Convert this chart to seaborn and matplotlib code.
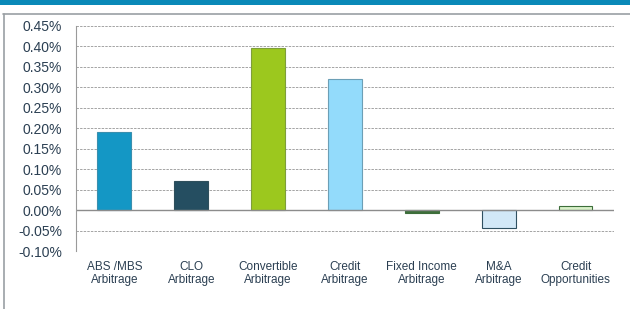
import matplotlib
matplotlib.use("Agg")
import matplotlib.pyplot as plt
from matplotlib.lines import Line2D
from matplotlib.patches import Rectangle
from matplotlib.ticker import FuncFormatter, MultipleLocator
import seaborn as sns
import pandas as pd

sns.set_theme(style="white")
plt.rcParams['font.family'] = ['Liberation Sans', 'DejaVu Sans']

categories = ["ABS /MBS\nArbitrage", "CLO\nArbitrage", "Convertible\nArbitrage",
              "Credit\nArbitrage", "Fixed Income\nArbitrage", "M&A\nArbitrage",
              "Credit\nOpportunities"]
returns = [0.190, 0.070, 0.395, 0.320, -0.008, -0.045, 0.010]
fill_colors = ["#1497c5", "#254e61", "#9cc81e", "#93dbfb", "#3d6e3a", "#d2e8f7", "#d8f1c8"]
edge_colors = ["#3a8fae", "#2f4f5c", "#7e9e3a", "#6c9fb6", "#3d6e3a", "#2f5061", "#3d6e3a"]

df = pd.DataFrame({"category": categories, "value": returns})

fig = plt.figure(figsize=(6.3, 3.09), dpi=100)
ax = fig.add_axes([0.1206, 0.1877, 0.8540, 0.7282])

sns.barplot(data=df, x="category", y="value", hue="category", palette=fill_colors,
            legend=False, width=0.44, ax=ax, saturation=1)
for patch, ec in zip(ax.patches, edge_colors):
    patch.set_edgecolor(ec)
    patch.set_linewidth(0.8)

ax.set_ylim(-0.10, 0.45)
ax.set_xlim(-0.5, len(categories) - 0.5)
ax.yaxis.set_major_locator(MultipleLocator(0.05))
ax.yaxis.set_major_formatter(FuncFormatter(lambda v, p: f"{v:.2f}%"))
ax.set_axisbelow(True)
ax.grid(axis="y", color="#a4a4a4", linestyle=(0, (2.5, 1.2)), linewidth=0.7)
ax.axhline(0, color="#8c8c8c", linewidth=1.0, zorder=1)

for side in ["top", "right", "bottom"]:
    ax.spines[side].set_visible(False)
ax.spines["left"].set_color("#9a9a9a")
ax.spines["left"].set_linewidth(0.8)

ax.tick_params(axis="y", labelsize=10, colors="#2b3f52", length=0, pad=10)
ax.tick_params(axis="x", labelsize=8.5, colors="#2b3f52", length=0, pad=7)
for lbl in ax.get_xticklabels():
    lbl.set_linespacing(1.15)
ax.set_xlabel("")
ax.set_ylabel("")

# header band and frame
fig.add_artist(Rectangle((0, 1 - 4.5 / 309), 1, 4.5 / 309, transform=fig.transFigure,
                         color="#0a89b8", lw=0))
fig.add_artist(Line2D([3 / 630, 1], [1 - 13.5 / 309] * 2, transform=fig.transFigure,
                      color="#9aa0a4", lw=1.2))
fig.add_artist(Line2D([3.5 / 630] * 2, [0, 1 - 13.5 / 309], transform=fig.transFigure,
                      color="#9aa0a4", lw=1.2))

fig.savefig("out.png", dpi=100)
